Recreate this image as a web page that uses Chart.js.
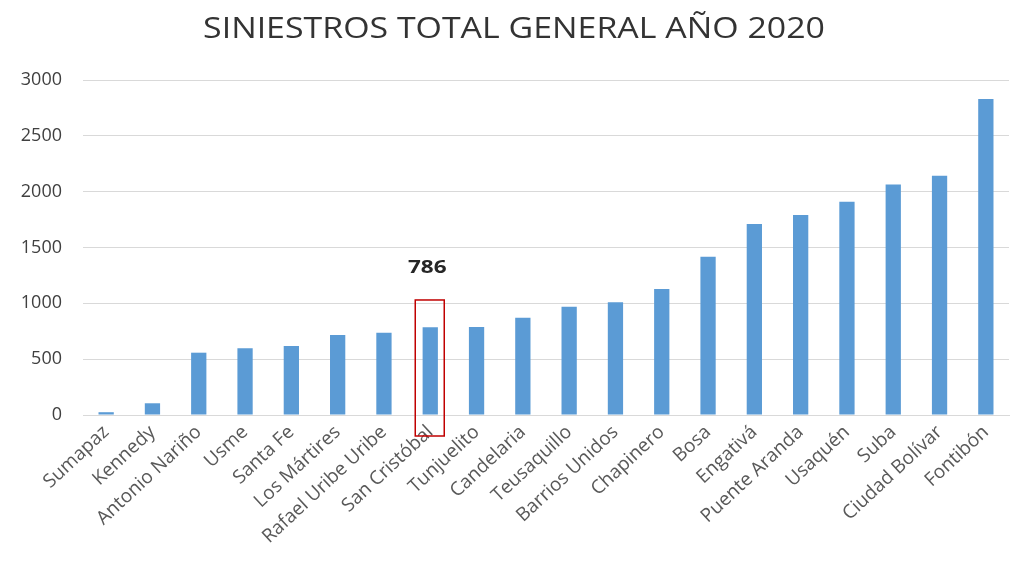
<!DOCTYPE html>
<html>
<head>
<meta charset="utf-8">
<script src="https://cdn.jsdelivr.net/npm/chart.js@4/dist/chart.umd.min.js"></script>
<style>
html,body{margin:0;padding:0;background:#fff;}
#wrap{width:1024px;height:566px;}
</style>
</head>
<body>
<div id="wrap"><canvas id="c" width="1024" height="566"></canvas></div>
<script>
const titleText = 'SINIESTROS TOTAL GENERAL AÑO 2020';
const localidades = ['Sumapaz','Kennedy','Antonio Nariño','Usme','Santa Fe','Los Mártires','Rafael Uribe Uribe','San Cristóbal','Tunjuelito','Candelaria','Teusaquillo','Barrios Unidos','Chapinero','Bosa','Engativá','Puente Aranda','Usaquén','Suba','Ciudad Bolívar','Fontibón'];
const siniestros = [25,105,558,597,618,716,737,786,788,871,970,1009,1128,1417,1710,1790,1910,2065,2143,2829];
const yTicks = [0,500,1000,1500,2000,2500,3000];
const highlightIndex = 7;

function stretchedText(ctx, text, x, y, sx) {
  ctx.save();
  ctx.translate(x, y);
  ctx.scale(sx, 1);
  ctx.fillText(text, 0, 0);
  ctx.restore();
}

const decorPlugin = {
  id: 'decor',
  afterDraw(chart) {
    const ctx = chart.ctx;
    ctx.save();
    ctx.fillStyle = '#333333';
    ctx.font = '30px "Open Sans"';
    ctx.textAlign = 'center';
    ctx.textBaseline = 'middle';
    stretchedText(ctx, titleText, 514, 29, 1.13);
    ctx.restore();
  },
  afterDatasetsDraw(chart) {
    const ctx = chart.ctx;
    const x = chart.scales.x, y = chart.scales.y;
    const cx = x.getPixelForValue(highlightIndex);
    const val = siniestros[highlightIndex];
    ctx.save();
    ctx.strokeStyle = '#c00000';
    ctx.lineWidth = 1.5;
    const top = y.getPixelForValue(1030);
    const bottom = y.getPixelForValue(0) + 21;
    ctx.strokeRect(cx - 15, top, 29, bottom - top);
    ctx.fillStyle = '#262626';
    ctx.font = 'bold 18px "Open Sans"';
    ctx.textAlign = 'center';
    ctx.textBaseline = 'middle';
    stretchedText(ctx, String(val), cx - 3, y.getPixelForValue(1320), 1.25);
    ctx.restore();
  }
};

new Chart(document.getElementById('c'), {
  type: 'bar',
  data: {
    labels: localidades,
    datasets: [{
      data: siniestros,
      backgroundColor: '#5B9BD5',
      barPercentage: 0.33,
      categoryPercentage: 1.0
    }]
  },
  options: {
    responsive: false,
    animation: false,
    devicePixelRatio: 1,
    layout: { padding: { left: 0, right: 15, top: 80, bottom: 0 } },
    plugins: {
      legend: { display: false },
      tooltip: { enabled: false },
      title: { display: false }
    },
    scales: {
      x: {
        grid: { display: false, drawTicks: false },
        border: { display: true, color: '#d9d9d9' },
        ticks: {
          color: '#595959',
          font: { family: 'Open Sans', size: 19 },
          maxRotation: 43,
          minRotation: 43,
          autoSkip: false,
          padding: 6
        },
        afterFit(scale) { scale.height = 151; }
      },
      y: {
        min: 0,
        max: 3000,
        afterBuildTicks(scale) { scale.ticks = yTicks.map(v => ({ value: v })); },
        grid: { color: '#d9d9d9', drawTicks: false },
        border: { display: false },
        ticks: {
          color: '#404040',
          font: { family: 'Open Sans', size: 18 },
          padding: 21,
          callback: (v) => String(v)
        },
        afterFit(scale) { scale.width = 83; }
      }
    }
  },
  plugins: [decorPlugin]
});
</script>
</body>
</html>
